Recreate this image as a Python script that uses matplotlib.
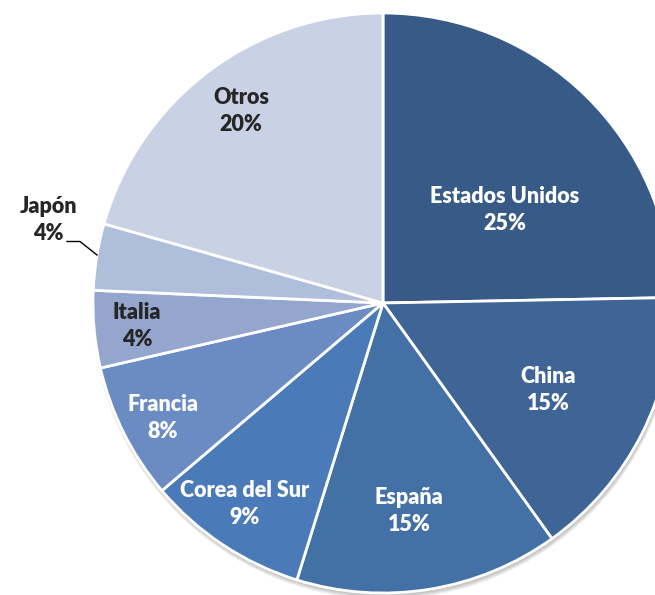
import matplotlib
matplotlib.use('Agg')
import matplotlib.pyplot as plt
import matplotlib.patches as mpatches

# slice names, shares (by angle) and the printed labels
paises = ['Estados Unidos', 'China', 'España', 'Corea del Sur', 'Francia', 'Italia', 'Japón', 'Otros']
cuota = [24.7, 15.4, 14.7, 9.0, 7.6, 4.3, 3.7, 20.6]
etiqueta_pct = ['25%', '15%', '15%', '9%', '8%', '4%', '4%', '20%']

colores = ['#375a87', '#3e6596', '#4371a6', '#4a7bb8', '#6b8cc3', '#94a6ce', '#aebedb', '#c9d2e5']
color_texto = ['white', 'white', 'white', 'white', 'white', '#262626', '#262626', '#262626']
# label centres, in pie radius units
pos_texto = [(0.421, 0.321), (0.569, -0.300), (0.090, -0.717), (-0.476, -0.693),
             (-0.759, -0.397), (-0.848, -0.079), (-1.155, 0.286), (-0.490, 0.662)]

fig = plt.figure(figsize=(6.55, 5.95), dpi=100)
ax = fig.add_axes([0, 0, 1, 1])

# soft shadow under the pie
for i in range(4):
    ax.add_patch(mpatches.Circle((0.004, -0.010 - i * 0.002), 1.0 + i * 0.002,
                                 color='black', alpha=0.06, zorder=0, lw=0))

wedges, _ = ax.pie(cuota, colors=colores, startangle=90, counterclock=False,
                   radius=1.0, wedgeprops=dict(edgecolor='white', linewidth=2))

for w in wedges:
    w.set_zorder(2)

ax.set_xlim(-383 / 290, 272 / 290)
ax.set_ylim(-292 / 290, 303 / 290)
ax.set_aspect('equal')
ax.axis('off')

for nombre, pct, (x, y), c in zip(paises, etiqueta_pct, pos_texto, color_texto):
    ax.text(x, y, nombre + '\n' + pct, ha='center', va='center', color=c,
            fontsize=15.5, fontweight='heavy', family='Lato', linespacing=1.38, zorder=3)

# leader line for Japón
lx = [(67 - 383) / 290, (80 - 383) / 290, (97 - 383) / 290]
ly = [(303 - 241.5) / 290, (303 - 241.5) / 290, (303 - 255) / 290]
ax.plot(lx, ly, color='black', lw=1, zorder=3)

plt.savefig('out.png', dpi=100)
